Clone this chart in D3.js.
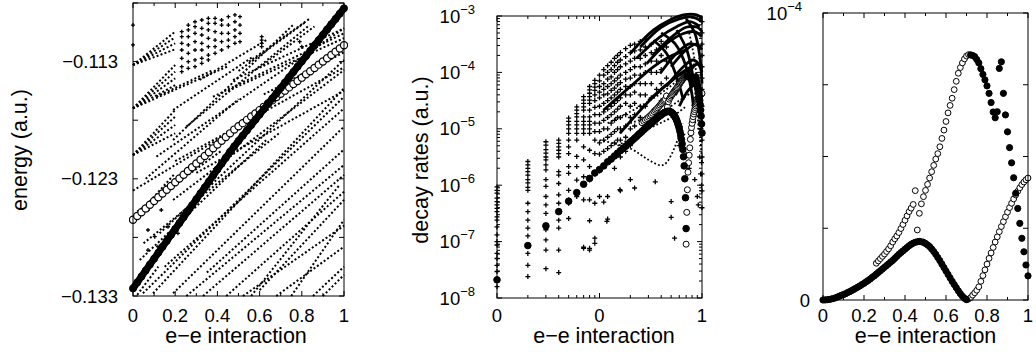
<!DOCTYPE html>
<html><head><meta charset="utf-8">
<script src="https://cdn.jsdelivr.net/npm/d3@7"></script>
<style>body{margin:0;background:#fff}svg text{font-family:"Liberation Sans",Arial,Helvetica,sans-serif;fill:#000}</style>
</head><body><svg id="c" width="1036" height="356"></svg>
<script>
// ---------- Panel 1 : energy (milli a.u.) vs e-e interaction ----------
const p1X=[0,.02,.04,.06,.08,.1,.12,.14,.16,.18,.2,.22,.24,.26,.28,.3,.32,.34,.36,.38,.4,.42,.44,.46,.48,.5,.52,.54,.56,.58,.6,.62,.64,.66,.68,.7,.72,.74,.76,.78,.8,.82,.84,.86,.88,.9,.92,.94,.96,.98,1];
const p1Thick=[-132.35,-131.84,-131.34,-130.83,-130.32,-129.82,-129.31,-128.80,-128.30,-127.79,-127.28,-126.78,-126.27,-125.76,-125.26,-124.75,-124.24,-123.74,-123.23,-122.72,-122.21,-121.71,-121.20,-120.69,-120.23,-119.77,-119.32,-118.87,-118.42,-117.96,-117.51,-117.06,-116.60,-116.15,-115.70,-115.25,-114.79,-114.34,-113.89,-113.43,-112.98,-112.53,-112.08,-111.62,-111.17,-110.72,-110.26,-109.81,-109.36,-108.91,-108.45];
const p1Open=[-126.50,-126.18,-125.86,-125.54,-125.22,-124.90,-124.57,-124.25,-123.93,-123.61,-123.29,-122.97,-122.65,-122.33,-122.01,-121.69,-121.37,-121.05,-120.73,-120.40,-120.08,-119.76,-119.44,-119.12,-118.80,-118.52,-118.25,-117.97,-117.69,-117.42,-117.14,-116.86,-116.58,-116.31,-116.03,-115.75,-115.48,-115.20,-114.92,-114.65,-114.37,-114.09,-113.82,-113.54,-113.26,-112.99,-112.71,-112.43,-112.15,-111.88,-111.60];
// dotted level trajectories read as knots [x, E]
const p1Lines=[
[[0,-113.29],[0.2,-110.45]],[[0,-113.29],[0.2,-110.93]],[[0,-113.29],[0.2,-111.44]],[[0,-113.29],[0.2,-111.95]],
[[0,-116.99],[0.2,-113.29]],[[0,-116.99],[0.2,-113.86]],[[0,-116.99],[0.2,-114.43]],[[0,-116.99],[0.2,-115.0]],[[0,-116.99],[0.45,-113.4]],
[[0,-120.97],[0.2,-117.13]],[[0,-120.97],[0.2,-117.7]],[[0,-120.97],[0.2,-118.41]],[[0,-120.97],[0.2,-119.12]],
[[0,-126.52],[0.2,-122.53]],[[0,-126.52],[0.2,-123.24]],[[0,-126.52],[0.16,-123.6]],
[[0,-132.35],[0.1,-130.0]],[[0.02,-132.9],[0.12,-130.5]],
[[0.111,-121.11],[1,-110.16]],[[0.19,-119.69],[0.758,-109.88]],[[0.253,-118.55],[0.837,-109.88]],
[[0.19,-117.13],[0.569,-112.58]],[[0.111,-116.0],[0.379,-113.72]],[[0.316,-114.57],[0.632,-111.16]],
[[0.379,-116.0],[1,-110.59]],[[0.474,-114.57],[1,-110.16]],
[[0.047,-132.77],[1,-116.0]],[[0.095,-132.77],[1,-115.28]],[[0.19,-132.77],[1,-118.55]],
[[0.253,-133],[1,-121.82]],[[0.332,-133],[1,-122.68]],[[0.442,-133],[1,-124.1]],[[0.521,-133],[1,-127.0]],
[[0.679,-133],[1,-128.79]],[[0.853,-133],[1,-130.5]],[[0.126,-127.65],[1,-112.86]],
[[0.032,-129.93],[0.632,-119.69]],[[0.19,-124.81],[1,-113.72]],
[[0.55,-113.0],[0.84,-109.3]],[[0.5,-113.8],[0.82,-109.6]],[[0.6,-113.5],[0.86,-110.0]],[[0.45,-115.5],[1,-111.0]],[[0.62,-115.8],[1,-112.2]],
[[0.2,-121.5],[1,-113.5]],[[0.3,-122.5],[1,-115.5]],[[0,-124.0],[0.6,-117.5]],[[0.05,-128.5],[0.7,-119.0]],
[[0.15,-130.5],[1,-117.0]],[[0.35,-131.0],[1,-120.5]],[[0.6,-132.5],[1,-124.8]],[[0.75,-133],[1,-126.5]],
[[0.9,-133],[1,-131.2]],[[0.56,-133],[0.98,-123.5]],[[0.02,-125.8],[0.42,-120.6]],[[0.06,-123.0],[0.5,-116.2]]];
const p1Crosses=[
[.231,-110.45],[.231,-110.87],[.231,-111.44],[.231,-112.01],[.231,-112.72],[.231,-113.43],[.231,-113.86],
[.262,-109.88],[.262,-110.3],[.262,-110.87],[.262,-111.58],[.262,-112.29],[.262,-113.01],[.262,-113.57],
[.294,-109.6],[.294,-110.02],[.294,-110.59],[.294,-111.3],[.294,-112.01],[.294,-112.86],[.294,-113.43],
[.326,-109.45],[.326,-110.16],[.326,-110.73],[.326,-111.44],[.326,-112.01],[.326,-112.72],[.326,-113.15],
[.357,-109.31],[.357,-109.73],[.357,-110.3],[.357,-111.01],[.357,-111.73],[.357,-112.44],[.357,-112.86],
[.389,-109.31],[.389,-109.73],[.389,-110.45],[.389,-111.16],[.389,-111.73],[.389,-112.29],
[.42,-109.45],[.42,-109.88],[.42,-110.59],[.42,-111.3],[.42,-112.01],
[.452,-109.17],[.452,-109.88],[.452,-110.59],[.452,-111.16],[.452,-111.73],
[.483,-109.02],[.483,-109.6],[.483,-110.3],[.483,-110.87],[.483,-111.44],
[.507,-109.17],[.507,-109.88],[.507,-110.59],[.507,-111.3],
[.61,-110.87],[.61,-111.16],[.61,-111.44],[.61,-111.73],[.79,-111.3],[.8,-111.73],
[0,-109.88],[0,-111.58],
[.071,-127.37],[.103,-127.94],[.071,-129.08],[.118,-128.79],[.166,-127.09],[.213,-127.65],[.134,-125.66],[.071,-125.66]];

// ---------- Panel 2 : decay rates (log10 a.u.) vs e-e interaction (log) ----------
const p2ColX=[0.01,0.02,0.03,0.04,0.05,0.06,0.07,0.08,0.09];
const p2ColLogV=[
[-6.03,-6.09,-6.14,-6.23,-6.29,-6.35,-6.41,-6.47,-6.56,-6.62,-6.74,-6.88,-7.0,-7.06,-7.21,-7.3,-7.42,-7.53,-7.68,-7.8],
[-5.58,-5.64,-5.7,-5.76,-5.82,-5.9,-5.96,-6.04,-6.09,-6.32,-6.47,-6.62,-6.76,-6.9,-7.21,-7.42,-7.62],
[-5.23,-5.29,-5.37,-5.43,-5.5,-5.55,-5.64,-5.73,-5.9,-6.02,-6.2,-6.35,-6.5,-6.79,-6.97,-7.15,-7.48],
[-5.2,-5.26,-5.32,-5.38,-5.44,-5.5,-5.76,-5.82,-5.97,-6.17,-6.32,-6.47,-6.62,-6.76,-7.15,-7.55],
[-4.81,-4.87,-4.93,-5.0,-5.08,-5.2,-5.32,-5.44,-5.67,-5.79,-6.09,-6.26,-6.32,-6.59],
[-4.61,-4.67,-4.73,-4.79,-4.87,-4.93,-5.0,-5.08,-5.2,-5.49,-5.67,-5.91,-6.14,-6.2],
[-4.43,-4.49,-4.55,-4.61,-4.67,-4.79,-4.87,-4.93,-5.0,-5.08,-5.32,-5.55,-5.85,-5.97,-6.26,-7.12],
[-4.25,-4.31,-4.37,-4.43,-4.49,-4.55,-4.67,-4.79,-4.87,-4.93,-5.0,-5.08,-5.38,-5.67,-5.91,-6.26,-7.15],
[-4.14,-4.2,-4.26,-4.32,-4.4,-4.5,-4.62,-4.75,-4.9,-5.05,-5.2,-5.44,-5.8,-6.32,-7.03]];
const p2CloudX=[0.10,0.11,0.12,0.13,0.14,0.15,0.16,0.18,0.20,0.22,0.25,0.28,0.32,0.36,0.40,0.45];
const p2CloudLogV=[
[-4.05,-4.15,-4.25,-4.35,-4.45,-4.6,-4.75,-4.9,-5.05,-5.25,-5.45,-5.75,-6.2],
[-3.95,-4.05,-4.2,-4.3,-4.4,-4.55,-4.7,-4.85,-5.0,-5.2,-5.4,-5.65,-6.3],
[-3.88,-4.0,-4.12,-4.25,-4.38,-4.5,-4.65,-4.8,-5.0,-5.15,-5.35,-5.6,-6.6],
[-3.82,-3.95,-4.08,-4.2,-4.32,-4.45,-4.6,-4.75,-4.9,-5.1,-5.3,-5.55],
[-3.75,-3.88,-4.0,-4.15,-4.28,-4.4,-4.55,-4.7,-4.85,-5.05,-5.25,-5.5,-5.7],
[-3.7,-3.82,-3.95,-4.1,-4.22,-4.35,-4.5,-4.65,-4.8,-5.0,-5.2,-5.45],
[-3.65,-3.78,-3.9,-4.05,-4.18,-4.3,-4.45,-4.6,-4.8,-5.0,-5.2,-5.5,-6.1],
[-3.58,-3.72,-3.85,-4.0,-4.12,-4.25,-4.4,-4.55,-4.75,-4.95,-5.15,-5.4],
[-3.52,-3.65,-3.8,-3.95,-4.1,-4.25,-4.4,-4.6,-4.8,-5.0,-5.3],
[-3.5,-3.62,-3.75,-3.9,-4.05,-4.2,-4.35,-4.55,-4.75,-4.95],
[-3.45,-3.6,-3.75,-3.9,-4.05,-4.2,-4.4,-4.6,-4.8],
[-3.4,-3.55,-3.7,-3.85,-4.0,-4.2,-4.4,-4.6],
[-3.5,-3.65,-3.8,-4.0,-4.2,-4.45],
[-3.6,-3.8,-4.0,-4.3],
[-3.45,-3.7,-3.95,-4.2,-4.5],
[-3.55,-3.8,-4.1,-4.4,-4.7]];
const p2Scatter=[[0.08,-6.63],[0.118,-6.64],[0.09,-6.94],[0.07,-7.1],[0.08,-7.12],[0.35,-5.94],[0.5,-6.29],[0.5,-6.57],[0.54,-6.94],
[0.12,-6.2],[0.158,-6.08],[0.2,-5.9],[0.22,-6.05],[0.85,-5.9],[0.9,-6.2],[0.92,-6.35],[0.95,-5.5],[0.97,-5.8],[0.6,-5.3],[0.65,-5.1],
[0.7,-5.45],[0.75,-5.7],[1,-3.1],[1,-3.3],[1,-3.5],[1,-3.7],[1,-3.9],[1,-4.1],[1,-4.3],[1,-4.6],[1,-4.9],[1,-5.2],[1,-5.5],[1,-5.8],[1,-6.1],[1,-6.4],
[0.98,-4.4],[0.98,-5.0],[0.99,-5.6],[0.99,-6.0]];
const p2Arcs=[
[[0.2,-3.66],[0.335,-3.25],[0.487,-3.07],[0.658,-2.98],[0.887,-2.98],[0.993,-3.04]],
[[0.23,-3.75],[0.39,-3.37],[0.566,-3.19],[0.764,-3.1],[0.95,-3.19]],
[[0.29,-3.84],[0.45,-3.49],[0.658,-3.31],[0.86,-3.28],[0.993,-3.37]],
[[0.39,-4.02],[0.566,-3.66],[0.764,-3.49],[0.95,-3.55]],
[[0.45,-4.25],[0.658,-3.9],[0.82,-3.78],[0.993,-3.9]],
[[0.335,-3.43],[0.45,-3.66],[0.566,-4.08],[0.658,-4.49]],
[[0.566,-3.25],[0.71,-3.6],[0.82,-4.08],[0.92,-4.49]],
[[0.158,-5.08],[0.335,-4.43],[0.566,-4.08],[0.82,-3.9]],
[[0.109,-4.67],[0.2,-4.25],[0.335,-3.9],[0.487,-3.72],[0.7,-3.6]],
[[0.25,-3.55],[0.4,-3.2],[0.6,-3.05],[0.8,-3.02],[1,-3.1]],
[[0.33,-3.7],[0.5,-3.38],[0.7,-3.2],[0.9,-3.2],[1,-3.28]],
[[0.5,-3.9],[0.7,-3.6],[0.88,-3.5],[1,-3.6]],
[[0.55,-4.4],[0.75,-4.0],[0.9,-3.85],[1,-4.0]],
[[0.4,-3.3],[0.55,-3.5],[0.7,-3.9],[0.8,-4.4],[0.85,-4.9]],
[[0.7,-3.05],[0.85,-3.3],[0.95,-3.7],[1,-4.2]],
[[0.6,-4.6],[0.75,-4.3],[0.9,-4.2],[1,-4.4]],
[[0.3,-4.5],[0.5,-4.15],[0.7,-3.95],[0.9,-3.85]]];
const p2Dotted=[
[[0.1,-5.2],[0.2,-5.35],[0.3,-5.55],[0.4,-5.65],[0.45,-5.6],[0.55,-5.3],[0.65,-4.9]],
[[0.12,-4.9],[0.25,-4.6],[0.45,-4.3],[0.7,-4.0],[1.0,-3.7]],
[[0.75,-3.3],[0.85,-3.8],[0.92,-4.5],[0.97,-5.2],[1.0,-5.6]],
[[0.8,-4.6],[0.9,-4.3],[0.97,-4.6],[1.0,-5.0]],
[[0.85,-4.2],[0.9,-4.7],[0.95,-5.1],[1.0,-4.8]],
[[0.2,-4.9],[0.4,-4.7],[0.6,-4.5],[0.8,-4.35]],
[[0.15,-5.3],[0.3,-5.0],[0.5,-4.8],[0.7,-4.6]]];

// ---------- Panel 3 / highlighted states : decay rate in units of 1e-4 a.u. ----------
const filledLowX=[0,.01,.02,.03,.04,.05,.06,.07,.08,.09,.1,.11,.12,.13,.14,.15,.16,.17,.18,.19,.2,.21,.22,.23,.24,.25,.26,.27,.28,.29,.3,.31,.32,.33,.34,.35,.36,.37,.38,.39,.4,.41,.42,.43,.44,.45,.46,.47,.48,.49,.5,.51,.52,.53,.54,.55,.56,.57,.58,.59,.6,.61,.62,.63,.64,.65,.66,.67,.68,.69,.7];
const filledLowY=[0,.00021,.00085,.0019,.0034,.0052,.0074,.0104,.0132,.0165,.019,.022,.026,.029,.033,.037,.041,.045,.049,.054,.058,.063,.068,.073,.079,.084,.090,.096,.102,.108,.114,.120,.126,.132,.138,.145,.152,.159,.165,.171,.177,.183,.189,.194,.198,.201,.203,.204,.203,.201,.197,.192,.186,.178,.169,.159,.148,.137,.125,.113,.101,.089,.077,.065,.054,.043,.032,.022,.013,.006,.0017];
const filledHighX=[.72,.73,.74,.75,.76,.77,.78,.79,.8,.81,.82,.83,.84,.85,.86,.87,.88,.89,.9,.91,.92,.93,.94,.95,.96,.97,.98,.99,1];
const filledHighY=[.854,.852,.848,.838,.826,.806,.786,.767,.746,.720,.688,.655,.635,.656,.807,.830,.720,.645,.586,.531,.478,.426,.372,.319,.267,.215,.168,.122,.084];
const openUpX=[.26,.27,.28,.29,.3,.31,.32,.33,.34,.35,.36,.37,.38,.39,.4,.41,.42,.43,.44,.45,.46,.47,.48,.49,.5,.51,.52,.53,.54,.55,.56,.57,.58,.59,.6,.61,.62,.63,.64,.65,.66,.67,.68,.69,.7,.71];
const openUpY=[.128,.136,.144,.152,.160,.169,.178,.189,.202,.213,.223,.235,.249,.263,.278,.293,.308,.320,.333,.381,.244,.302,.335,.360,.382,.403,.425,.447,.469,.491,.510,.534,.563,.592,.622,.652,.678,.703,.733,.762,.790,.810,.826,.840,.850,.855];
const openLowX=[.7,.71,.72,.73,.74,.75,.76,.77,.78,.79,.8,.81,.82,.83,.84,.85,.86,.87,.88,.89,.9,.91,.92,.93,.94,.95,.96,.97,.98,.99,1];
const openLowY=[.0009,.0033,.0083,.017,.025,.034,.046,.065,.085,.105,.125,.145,.164,.183,.202,.220,.238,.256,.273,.290,.306,.322,.337,.352,.366,.379,.391,.402,.411,.419,.425];

const xTicks=[0,0.2,0.4,0.6,0.8,1], xTickLabels=["0","0.2","0.4","0.6","0.8","1"];
const p1YTicks=[-133,-123,-113], p1YTickLabels=["\u22120.133","\u22120.123","\u22120.113"];
const p2XTicks=[0.01,0.1,1], p2XTickLabels=["0","0","1"];
const p2YExps=[-8,-7,-6,-5,-4,-3];

// ---------- drawing ----------
const svg=d3.select("#c");
const zip=(a,b)=>a.map((v,i)=>[v,b[i]]);
const FS=18.5, TFS=21.5;
function clip(id,x,y){svg.append("clipPath").attr("id",id).append("rect").attr("x",x.range()[0]-4).attr("y",y.range()[1]-4).attr("width",x.range()[1]-x.range()[0]+8).attr("height",y.range()[0]-y.range()[1]+8);return svg.append("g").attr("clip-path",`url(#${id})`);}
function crosses(g,pts,x,y,s,w){g.append("path").attr("d",pts.map(d=>`M${x(d[0])-s},${y(d[1])}h${2*s}M${x(d[0])},${y(d[1])-s}v${2*s}`).join("")).attr("stroke","#000").attr("stroke-width",w||1.2).attr("fill","none");}
function circles(g,pts,x,y,r,filled,w){g.selectAll(null).data(pts).join("circle").attr("cx",d=>x(d[0])).attr("cy",d=>y(d[1])).attr("r",r).attr("fill",filled?"#000":"#fff").attr("stroke","#000").attr("stroke-width",w||1);}
function frame(x,y,xt,xtLen,yt,ytLen){
  const g=svg.append("g").attr("stroke","#000").attr("stroke-width",1).attr("fill","none");
  const [L,R]=x.range(),[B,T]=y.range();
  g.append("rect").attr("x",L).attr("y",T).attr("width",R-L).attr("height",B-T);
  xt.forEach((v,i)=>{const p=x(v),l=xtLen[i];g.append("line").attr("x1",p).attr("x2",p).attr("y1",B).attr("y2",B-l);g.append("line").attr("x1",p).attr("x2",p).attr("y1",T).attr("y2",T+l);});
  yt.forEach((v,i)=>{const p=y(v),l=ytLen[i];g.append("line").attr("y1",p).attr("y2",p).attr("x1",L).attr("x2",L+l);g.append("line").attr("y1",p).attr("y2",p).attr("x1",R).attr("x2",R-l);});
}
function text(x,y,s,anchor,size){return svg.append("text").attr("x",x).attr("y",y).attr("text-anchor",anchor||"middle").attr("font-size",size||FS).text(s);}
const minorX=[0.1,0.3,0.5,0.7,0.9];

// Panel 1
{
 const x=d3.scaleLinear([0,1],[133,344]), y=d3.scaleLinear([-133,-108],[296,3]);
 const g=clip("c1",x,y);
 const ln=d3.line().x(d=>x(d[0])).y(d=>y(d[1]));
 g.selectAll(null).data(p1Lines).join("path").attr("d",ln).attr("fill","none").attr("stroke","#000").attr("stroke-width",2).attr("stroke-dasharray","2 2.2");
 crosses(g,p1Crosses,x,y,2,1.3);
 circles(g,zip(p1X,p1Open),x,y,3.6,false,1.2);
 g.append("path").attr("d",ln(zip(p1X,p1Thick))).attr("fill","none").attr("stroke","#000").attr("stroke-width",7);
 circles(g,zip(p1X,p1Thick),x,y,3.5,true);
 const yt=[-133,-128,-123,-118,-113,-108];
 frame(x,y,xTicks.concat(minorX),xTicks.map(()=>5).concat(minorX.map(()=>3)),yt,yt.map(()=>5));
 xTicks.forEach((v,i)=>text(x(v),322,xTickLabels[i]));
 p1YTicks.forEach((v,i)=>text(118,y(v)+6.5,p1YTickLabels[i],"end"));
 text(236,343,"e\u2212e interaction","middle",TFS);
 svg.append("text").attr("transform","translate(27,150) rotate(-90)").attr("text-anchor","middle").attr("font-size",TFS).text("energy (a.u.)");
}
// Panel 2
{
 const x=d3.scaleLog([0.01,1],[497,702]), y=d3.scaleLog([1e-8,1e-3],[298,16]);
 const g=clip("c2",x,y);
 const P=d=>[d[0],Math.pow(10,d[1])];
 const ln=d3.line().curve(d3.curveCatmullRom).x(d=>x(d[0])).y(d=>y(Math.pow(10,d[1])));
 const cols=[];p2ColX.forEach((cx,i)=>p2ColLogV[i].forEach(v=>cols.push(P([cx,v]))));
 p2CloudX.forEach((cx,i)=>p2CloudLogV[i].forEach(v=>cols.push(P([cx,v]))));
 p2Scatter.forEach(d=>cols.push(P(d)));
 g.selectAll(null).data(p2Dotted).join("path").attr("d",ln).attr("fill","none").attr("stroke","#000").attr("stroke-width",1.8).attr("stroke-dasharray","1.8 2.2");
 g.selectAll(null).data(p2Arcs).join("path").attr("d",ln).attr("fill","none").attr("stroke","#000").attr("stroke-width",2.8);
 crosses(g,cols,x,y,2.5,1.3);
 const sc=a=>a.filter(d=>d[0]>0&&d[1]>0).map(d=>[d[0],d[1]*1e-4]);
 circles(g,sc(zip(openUpX,openUpY)),x,y,3,false);
 circles(g,sc(zip(openLowX,openLowY)),x,y,3,false);
 circles(g,sc(zip(filledLowX,filledLowY)),x,y,3.3,true);
 circles(g,sc(zip(filledHighX,filledHighY)),x,y,3.3,true);
 const xm=[],ym=[];[0.01,0.1].forEach(d=>{for(let k=2;k<10;k++)xm.push(d*k);});
 p2YExps.slice(0,-1).forEach(e=>{for(let k=2;k<10;k++)ym.push(k*Math.pow(10,e));});
 const xt=p2XTicks.concat(xm), yt=p2YExps.map(e=>Math.pow(10,e)).concat(ym);
 frame(x,y,xt,xt.map((d,i)=>i<3?5:3),yt,yt.map((d,i)=>i<6?5:3));
 p2XTicks.forEach((v,i)=>text(x(v),322,p2XTickLabels[i]));
 p2YExps.forEach(e=>{const t=text(475,y(Math.pow(10,e))+6.5,"","end");t.append("tspan").text("10");t.append("tspan").attr("dy",-9).attr("font-size",13).text("\u2212"+(-e));});
 text(604,343,"e\u2212e interaction","middle",TFS);
 svg.append("text").attr("transform","translate(428,160) rotate(-90)").attr("text-anchor","middle").attr("font-size",TFS).text("decay rates (a.u.)");
}
// Panel 3
{
 const x=d3.scaleLinear([0,1],[823,1028]), y=d3.scaleLinear([0,1],[300,13]);
 const g=clip("c3",x,y);
 circles(g,zip(openUpX,openUpY),x,y,2.9,false);
 circles(g,zip(openLowX,openLowY),x,y,2.9,false);
 circles(g,zip(filledLowX,filledLowY),x,y,3.1,true);
 circles(g,zip(filledHighX,filledHighY),x,y,3.1,true);
 const yt=[0,0.25,0.5,0.75,1];
 frame(x,y,xTicks.concat(minorX),xTicks.map(()=>5).concat(minorX.map(()=>3)),yt,yt.map(()=>5));
 xTicks.forEach((v,i)=>text(x(v),322,xTickLabels[i]));
 text(810,y(0)+6.5,"0","end");
 const t=text(802,y(1)+6.5,"","end");t.append("tspan").text("10");t.append("tspan").attr("dy",-9).attr("font-size",13).text("\u22124");
 text(925.5,343,"e\u2212e interaction","middle",TFS);
}
</script></body></html>
